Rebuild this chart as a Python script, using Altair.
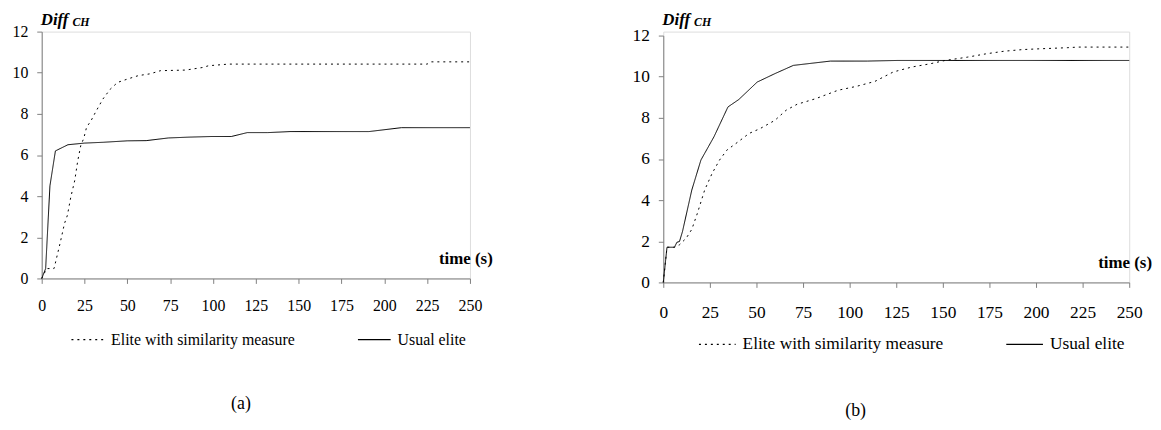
import altair as alt
import pandas as pd

SIM = "Elite with similarity measure"
USUAL = "Usual elite"

# ---- panel (a) ----
a_sim_t = [0, 2.9, 7.2, 10.7, 13.3, 15, 17, 19.3, 21, 22.8, 24.5, 26.2, 28.8, 31.4, 35.7, 40, 44.3, 50.3, 56.4, 63.4, 69.3, 84, 94.3, 97.3, 109, 124, 225, 227, 250]
a_sim_v = [0, 0.48, 0.48, 1.7, 2.67, 3.07, 3.96, 4.77, 5.7, 6.46, 6.8, 7.35, 7.67, 8.08, 8.72, 9.2, 9.53, 9.7, 9.86, 9.95, 10.1, 10.13, 10.26, 10.34, 10.42, 10.42, 10.42, 10.53, 10.53]
a_usu_t = [0, 2.3, 4.8, 8, 15.3, 25, 36, 50, 61, 74, 86, 99, 110.7, 120, 132, 145, 191, 210, 250]
a_usu_v = [0, 0.48, 4.5, 6.2, 6.5, 6.58, 6.62, 6.69, 6.7, 6.83, 6.87, 6.9, 6.9, 7.09, 7.09, 7.14, 7.14, 7.33, 7.33]

# ---- panel (b) ----
b_sim_t = [0, 2, 6, 8.7, 12.3, 15.3, 18.3, 22.2, 26.2, 30.2, 34.1, 40.1, 46, 52, 59.9, 65.9, 71.8, 81.7, 93.7, 103.6, 113.5, 123.4, 133.3, 143.3, 151.2, 163.1, 173, 182.9, 192.9, 202.8, 216.7, 222.6, 250]
b_sim_v = [0, 1.71, 1.71, 1.83, 2.15, 2.58, 3.36, 4.49, 5.3, 5.95, 6.43, 6.83, 7.24, 7.48, 7.88, 8.37, 8.66, 8.93, 9.34, 9.53, 9.77, 10.23, 10.47, 10.63, 10.79, 10.95, 11.11, 11.24, 11.32, 11.36, 11.41, 11.44, 11.44]
b_usu_t = [0, 2, 6, 7.3, 8.7, 10.3, 15.3, 20.2, 27.2, 34.7, 40.5, 50.4, 59.9, 69.8, 89.7, 109.5, 125.4, 250]
b_usu_v = [0, 1.71, 1.71, 1.95, 1.99, 2.47, 4.49, 5.95, 7.08, 8.53, 8.89, 9.74, 10.15, 10.55, 10.76, 10.76, 10.79, 10.79]

x_ticks = [0, 25, 50, 75, 100, 125, 150, 175, 200, 225, 250]
y_ticks = [0, 2, 4, 6, 8, 10, 12]

FONT = "Liberation Serif"


def frame(st, sv, ut, uv):
    rows = [{"time": t, "value": v, "series": SIM, "order": i} for i, (t, v) in enumerate(zip(st, sv))]
    rows += [{"time": t, "value": v, "series": USUAL, "order": i} for i, (t, v) in enumerate(zip(ut, uv))]
    return pd.DataFrame(rows)


def txt(s, x, y, size, weight="normal", style="normal", align="left", baseline="alphabetic"):
    return alt.Chart(pd.DataFrame({"t": [s]})).mark_text(
        font=FONT, fontSize=size, fontWeight=weight, fontStyle=style, align=align,
        baseline=baseline, color="black"
    ).encode(x=alt.value(x), y=alt.value(y), text="t:N")


def panel(df, w, h, y_top, caption, cap_x, cap_y, fs, sym, legend_x, legend_y, label_pad, diff_y):
    lines = alt.Chart(df).mark_line(color="black", strokeWidth=1.0).encode(
        x=alt.X("time:Q", scale=alt.Scale(domain=[0, 250], nice=False),
                axis=alt.Axis(values=x_ticks, title=None, grid=False, domainColor="#808080",
                              tickColor="#808080", tickSize=5, labelPadding=label_pad, labelFontSize=fs,
                              labelFont=FONT, labelColor="black", labelFlush=False)),
        y=alt.Y("value:Q", scale=alt.Scale(domain=[0, 12], nice=False, range=[h, y_top]),
                axis=alt.Axis(values=y_ticks, title=None, grid=False, domainColor="#808080",
                              tickColor="#808080", tickSize=5, labelPadding=9, labelFontSize=fs,
                              labelFont=FONT, labelColor="black", minExtent=33, maxExtent=33)),
        strokeDash=alt.StrokeDash("series:N",
                                  scale=alt.Scale(domain=[SIM, USUAL], range=[[2, 4], [1, 0]]),
                                  legend=alt.Legend(title=None, orient="none", direction="horizontal",
                                                    legendX=legend_x, legendY=legend_y,
                                                    symbolType="stroke", symbolSize=sym * sym,
                                                    symbolStrokeColor="black", symbolStrokeWidth=1.2,
                                                    labelFont=FONT, labelFontSize=fs, labelColor="black",
                                                    labelLimit=400, labelOffset=6, columnPadding=60)),
        order="order:Q",
    )
    layers = [
        lines,
        txt("Diff", -1, diff_y, 17, weight="bold", style="italic"),
        txt("CH", 31, diff_y + 1, 12, weight="bold", style="italic"),
        txt("time (s)", w + 23, h - 20, 17, weight="bold", align="right", baseline="middle"),
        txt(caption, cap_x, cap_y, 18, align="center", baseline="middle"),
    ]
    return alt.layer(*layers).properties(width=w, height=h)


left = panel(frame(a_sim_t, a_sim_v, a_usu_t, a_usu_v), 432, 249, 0, "(a)", 201, 376,
             16, 33, 29, 293, 14, -7)
right = panel(frame(b_sim_t, b_sim_v, b_usu_t, b_usu_v), 470, 253, 4, "(b)", 194, 383,
              17.5, 37, 35, 296, 16, -7)

chart = alt.hconcat(left, right, spacing=137).resolve_scale(strokeDash="independent").resolve_legend(
    strokeDash="independent"
).properties(
    padding={"left": 0, "top": 0, "right": 0, "bottom": 0}
).configure_view(stroke=None).configure(background="white")

chart.save("out.html", embed_options={"renderer": "svg", "actions": False})
